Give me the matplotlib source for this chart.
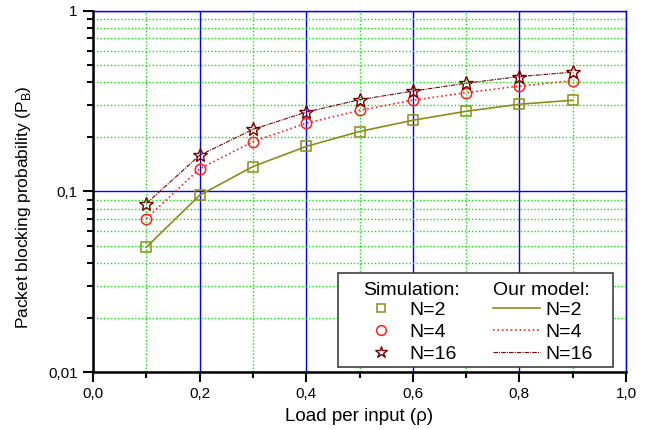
import matplotlib
matplotlib.use("Agg")
import matplotlib.pyplot as plt
from matplotlib.ticker import FixedLocator, FuncFormatter, LogLocator, NullFormatter
from matplotlib.lines import Line2D
from matplotlib.patches import Rectangle

plt.rcParams['font.family'] = ['Liberation Sans', 'DejaVu Sans']

# load per input
rho = [0.1, 0.2, 0.3, 0.4, 0.5, 0.6, 0.7, 0.8, 0.9]

# simulation points
sim_n2 = [0.049, 0.095, 0.137, 0.177, 0.214, 0.247, 0.277, 0.303, 0.319]
sim_n4 = [0.0706, 0.133, 0.188, 0.238, 0.280, 0.319, 0.351, 0.382, 0.409]
sim_n16 = [0.0855, 0.158, 0.220, 0.274, 0.321, 0.358, 0.396, 0.431, 0.456]

# model curves
mod_n2 = [0.049, 0.095, 0.137, 0.177, 0.214, 0.247, 0.277, 0.303, 0.319]
mod_n4 = [0.0706, 0.133, 0.188, 0.238, 0.280, 0.319, 0.351, 0.382, 0.409]
mod_n16 = [0.0855, 0.158, 0.220, 0.274, 0.321, 0.358, 0.396, 0.431, 0.456]

olive = "#8c8c1a"
red = "#ff2020"
dred = "#7a0000"

fig = plt.figure(figsize=(6.59, 4.30), dpi=100)
ax = fig.add_axes([93/659, 1 - 372/430, 533/659, 361.5/430])

ax.plot(rho, mod_n2, '-', color=olive, lw=1.2, zorder=3)
ax.plot(rho, mod_n4, ':', color=red, lw=1.2, zorder=3)
ax.plot(rho, mod_n16, '-.', color=dred, lw=0.8, dashes=(4, 1, 1, 1), zorder=3)

ax.plot(rho, sim_n2, 's', mfc='none', mec=olive, ms=7, mew=1.1, ls='none', zorder=4)
ax.plot(rho, sim_n4, 'o', mfc='none', mec=red, ms=7.5, mew=1.1, ls='none', zorder=4)
ax.plot(rho, sim_n16, '*', mfc='none', mec=dred, ms=10, mew=1.0, ls='none', zorder=4)

ax.set_yscale('log')
ax.set_xlim(0, 1.0)
ax.set_ylim(0.01, 1)

ax.xaxis.set_major_locator(FixedLocator([0, 0.2, 0.4, 0.6, 0.8, 1.0]))
ax.xaxis.set_minor_locator(FixedLocator([0.1, 0.3, 0.5, 0.7, 0.9]))
ax.xaxis.set_major_formatter(FuncFormatter(lambda v, p: f"{v:.1f}".replace('.', ',')))
ax.yaxis.set_major_locator(FixedLocator([0.01, 0.1, 1]))
ax.yaxis.set_major_formatter(FuncFormatter(lambda v, p: {0.01: "0,01", 0.1: "0,1", 1: "1"}.get(round(v, 3), "")))
ax.yaxis.set_minor_locator(LogLocator(base=10, subs=range(2, 10)))
ax.yaxis.set_minor_formatter(NullFormatter())

ax.grid(which='major', color='#0000ff', lw=1.0, ls='-', zorder=1)
ax.grid(which='minor', color='#00ee00', lw=1.0, ls=(0, (1, 1.5)), zorder=1)
ax.set_axisbelow(True)

for s in ['left', 'bottom']:
    ax.spines[s].set_linewidth(1.8)
    ax.spines[s].set_color('black')
for s in ['top', 'right']:
    ax.spines[s].set_color('#0000ff')
    ax.spines[s].set_linewidth(1.0)

ax.tick_params(which='major', direction='out', length=7, width=1.5, labelsize=11, pad=4)
ax.tick_params(which='minor', direction='out', length=4, width=1.5)

ax.set_xlabel("Load per input (\u03c1)", fontsize=13.5, labelpad=5)
ax.set_ylabel("Packet blocking probability (P$_\\mathregular{B}$)", fontsize=12.5)
ax.yaxis.set_label_coords(-0.112, 0.455)

# legend box (drawn separately so it can be wider than the entries)
box = Rectangle((0.4597, 0.0138), 0.516, 0.26, transform=ax.transAxes,
                facecolor='white', edgecolor='#404040', lw=1.2, zorder=5)
ax.add_patch(box)

blank = Line2D([], [], ls='none')
handles = [
    blank,
    Line2D([], [], ls='none', marker='s', mfc='none', mec=olive, ms=6, mew=1.1),
    Line2D([], [], ls='none', marker='o', mfc='none', mec=red, ms=7, mew=1.1),
    Line2D([], [], ls='none', marker='*', mfc='none', mec=dred, ms=9, mew=1.0),
    blank,
    Line2D([], [], color=olive, lw=1.2),
    Line2D([], [], color=red, lw=1.2, ls=':'),
    Line2D([], [], color=dred, lw=0.8, ls='-.', dashes=(4, 1, 1, 1)),
]
labels = [" ", "N=2", "N=4", "N=16", " ", "N=2", "N=4", "N=16"]
leg = ax.legend(handles, labels, ncol=2, loc='lower right', bbox_to_anchor=(0.951, 0.006),
                fontsize=14, frameon=False, handlelength=2.4, handletextpad=0.3,
                columnspacing=1.85, labelspacing=0.22, borderpad=0.35, borderaxespad=0)
leg.set_zorder(6)

ax.text(0.507, 0.225, "Simulation:", transform=ax.transAxes, fontsize=14,
        ha='left', va='center', zorder=7)
ax.text(0.750, 0.225, "Our model:", transform=ax.transAxes, fontsize=14,
        ha='left', va='center', zorder=7)

fig.savefig("out.png", dpi=100)
